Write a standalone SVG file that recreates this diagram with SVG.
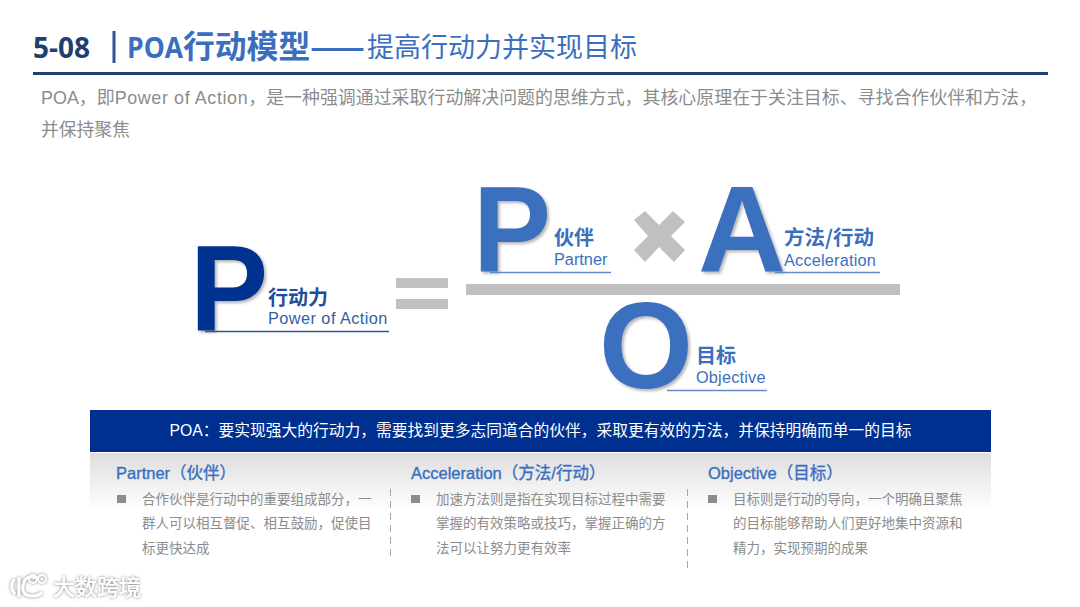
<svg xmlns="http://www.w3.org/2000/svg" width="1080" height="607" viewBox="0 0 1080 607">
<style>
text{font-family:"Noto Sans","Noto Sans CJK SC",sans-serif}
.big{font-family:"Liberation Sans",sans-serif;font-weight:700;font-size:122px;filter:url(#sh)}
.cn{font-family:"Noto Sans CJK SC",sans-serif;font-weight:700;font-size:20px}
.en{font-family:"Liberation Sans",sans-serif;font-size:16.300px}
.blue{fill:#3b6fbe}
.navy{fill:#00308f}
.ul{stroke-width:1.3;fill:none}
.gray{fill:#c0c0c0}
.h{font-family:"Liberation Sans","Noto Sans CJK SC",sans-serif;font-size:16.500px;fill:#3b6fbe;stroke:#3b6fbe;stroke-width:.35px}
.b{font-family:"Noto Sans CJK SC",sans-serif;font-size:13.500px;fill:#8c8c8c}
.sq{fill:#8c8c8c}
.dash{stroke:#a6a6a6;stroke-width:1;stroke-dasharray:7 5;fill:none}
</style>
<defs>
<filter id="sh" x="-10%" y="-10%" width="125%" height="125%"><feDropShadow dx="2" dy="2" stdDeviation="1.500" flood-color="#000" flood-opacity=".3"/></filter>
<filter id="wm" x="-10%" y="-20%" width="120%" height="140%"><feDropShadow dx="0" dy="0" stdDeviation="1.500" flood-color="#777" flood-opacity="1"/></filter>
<linearGradient id="fade" x1="0" y1="0" x2="0" y2="1"><stop offset="0" stop-color="#dedede"/><stop offset="1" stop-color="#fff"/></linearGradient>
</defs>
<rect width="1080" height="607" fill="#fff"/>
<g id="header">
<text x="33" y="58" font-size="28" font-weight="700" fill="#1f3f73" style="font-family:'Open Sans','Noto Sans',sans-serif">5-08</text>
<rect x="112.500" y="31" width="3" height="32" fill="#2f5597"/>
<text x="127" y="58" font-size="28" font-weight="700" class="blue" style="font-family:'Open Sans',sans-serif" textLength="56" lengthAdjust="spacingAndGlyphs">POA</text>
<text x="183" y="58" font-size="31.800" font-weight="700" class="blue" style="font-family:'Noto Sans CJK SC',sans-serif">行动模型</text>
<text x="310" y="57" font-size="27" font-weight="900" class="blue" style="font-family:'Noto Sans CJK SC',sans-serif" textLength="55" lengthAdjust="spacingAndGlyphs">——</text>
<text x="367" y="57" font-size="27" class="blue" style="font-family:'Noto Sans CJK SC',sans-serif">提高行动力并实现目标</text>
<rect x="33" y="72" width="1015" height="3" fill="#1f3f73"/>
<text x="41" y="104" font-size="17.930" fill="#8c8c8c" style="font-family:'Liberation Sans','Noto Sans CJK SC',sans-serif">POA，即<tspan letter-spacing="0.600">Power of Action</tspan>，是一种强调通过采取行动解决问题的思维方式，其核心原理在于关注目标、寻找合作伙伴和方法，</text>
<text x="41" y="136" font-size="17.800" fill="#8c8c8c" style="font-family:'Noto Sans CJK SC',sans-serif">并保持聚焦</text>
</g>
<g id="node-power">
<text class="big navy" x="190" y="331" textLength="78" lengthAdjust="spacingAndGlyphs">P</text>
<text class="cn" x="268" y="304.500" fill="#1f4e9c">行动力</text>
<text class="en" x="268" y="323.500" fill="#2f5fa8" letter-spacing="0.450">Power of Action</text>
<path class="ul" stroke="#2f5597" d="M205 331.500H389"/>
</g>
<g id="equals" class="gray"><rect x="396" y="278" width="52" height="10"/><rect x="396" y="299" width="52" height="10"/></g>
<g id="node-partner">
<text class="big blue" x="473" y="272" textLength="78" lengthAdjust="spacingAndGlyphs">P</text>
<text class="cn blue" x="554" y="244.500">伙伴</text>
<text class="en blue" x="554" y="265">Partner</text>
<path class="ul" stroke="#5f8bcb" d="M490 272.500H611"/>
</g>
<path id="times" class="gray" d="M634 220L645 211L659 225L673 211L685 222L671 236L685 250L674 262L659 247L645 262L634 250L648 236Z"/>
<g id="node-acceleration">
<text class="big blue" x="698" y="272" textLength="88" lengthAdjust="spacingAndGlyphs">A</text>
<text class="cn blue" x="784" y="245" style="font-size:20.500px">方法/行动</text>
<text class="en blue" x="784" y="265.500" letter-spacing="0.200">Acceleration</text>
<path class="ul" stroke="#5f8bcb" d="M775 272.500H880"/>
</g>
<rect id="fraction" x="466" y="284" width="434" height="11" fill="#c0c0c0"/>
<g id="node-objective">
<text class="big blue" x="599" y="388" textLength="94" lengthAdjust="spacingAndGlyphs">O</text>
<text class="cn blue" x="696" y="362.500">目标</text>
<text class="en blue" x="696" y="382.500" letter-spacing="0.200">Objective</text>
<path class="ul" stroke="#5f8bcb" d="M667 390.500H767"/>
</g>
<g id="banner">
<rect x="90" y="410" width="901" height="42" fill="#00308f"/>
<text x="540.500" y="436" text-anchor="middle" font-size="15.750" fill="#fff" style="font-family:'Liberation Sans','Noto Sans CJK SC',sans-serif">POA：要实现强大的行动力，需要找到更多志同道合的伙伴，采取更有效的方法，并保持明确而单一的目标</text>
</g>
<rect x="90" y="453" width="901" height="58" fill="url(#fade)"/>
<g id="node-col1">
<text class="h" x="116" y="479">Partner（伙伴）</text>
<rect class="sq" x="117" y="495" width="9" height="8"/>
<text class="b" x="142" y="504">合作伙伴是行动中的重要组成部分，一</text>
<text class="b" x="142" y="528">群人可以相互督促、相互鼓励，促使目</text>
<text class="b" x="142" y="553">标更快达成</text>
</g>
<g id="node-col2">
<text class="h" x="411" y="479">Acceleration（方法/行动）</text>
<rect class="sq" x="411" y="495" width="9" height="8"/>
<text class="b" x="436" y="504">加速方法则是指在实现目标过程中需要</text>
<text class="b" x="436" y="528">掌握的有效策略或技巧，掌握正确的方</text>
<text class="b" x="436" y="553">法可以让努力更有效率</text>
</g>
<g id="node-col3">
<text class="h" x="708" y="479">Objective（目标）</text>
<rect class="sq" x="708" y="495" width="9" height="8"/>
<text class="b" x="733" y="504">目标则是行动的导向，一个明确且聚焦</text>
<text class="b" x="733" y="528">的目标能够帮助人们更好地集中资源和</text>
<text class="b" x="733" y="553">精力，实现预期的成果</text>
</g>
<g id="dividers" class="dash"><path d="M390.500 489V561"/><path d="M687.500 489V568"/></g>
<g id="watermark" filter="url(#wm)">
<path d="M14 579q-5 8 1 15M19 577v20M37 578q-12-4-14 7t10 11q6 0 9-4" fill="none" stroke="#fff" stroke-width="3"/>
<circle cx="33" cy="579" r="4" fill="none" stroke="#fff" stroke-width="1.800"/><circle cx="42" cy="579" r="4" fill="none" stroke="#fff" stroke-width="1.800"/>
<text x="53" y="595" font-size="22" fill="#fff" font-weight="500" style="font-family:'Noto Sans CJK SC',sans-serif">大数跨境</text>
</g>
</svg>
